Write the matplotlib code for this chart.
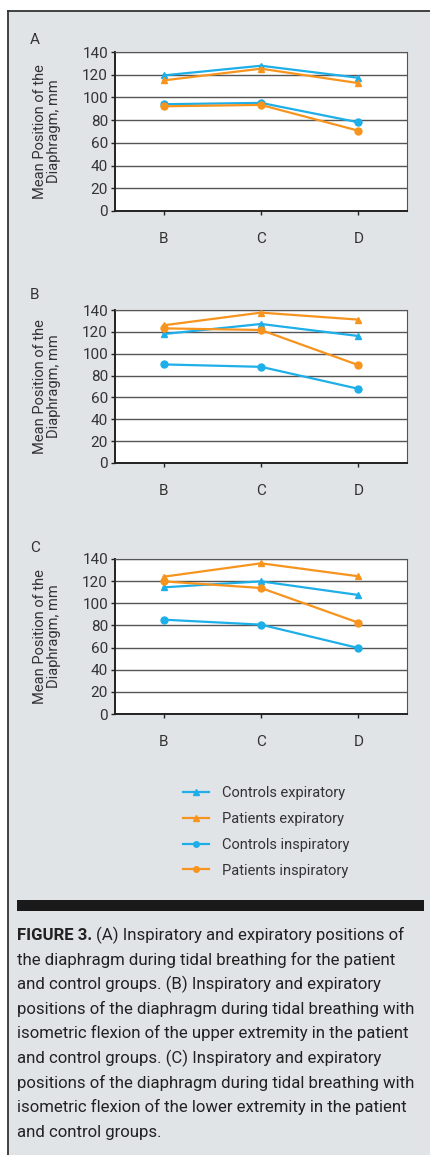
import matplotlib
matplotlib.use("Agg")
import matplotlib.pyplot as plt
from matplotlib.lines import Line2D

plt.rcParams['font.family'] = ['Roboto', 'DejaVu Sans']

categories = ['B', 'C', 'D']
yticks = [0, 20, 40, 60, 80, 100, 120, 140]
panel_letters = ['A', 'B', 'C']
series_names = ['Controls expiratory', 'Patients expiratory',
                'Controls inspiratory', 'Patients inspiratory']

# values per panel, in the order of series_names
panel_A = [[119.4, 127.9, 117.3],
           [115.0, 125.3, 112.6],
           [94.0, 95.2, 78.1],
           [92.2, 93.4, 70.7]]
panel_B = [[118.0, 127.2, 116.2],
           [126.0, 137.6, 131.2],
           [90.2, 88.0, 67.9],
           [123.2, 121.7, 89.6]]
panel_C = [[114.4, 119.8, 107.5],
           [124.0, 136.1, 124.4],
           [85.2, 80.7, 59.6],
           [119.8, 113.8, 82.5]]

caption_lines = [
    "(A) Inspiratory and expiratory positions of",
    "the diaphragm during tidal breathing for the patient",
    "and control groups. (B) Inspiratory and expiratory",
    "positions of the diaphragm during tidal breathing with",
    "isometric flexion of the upper extremity in the patient",
    "and control groups. (C) Inspiratory and expiratory",
    "positions of the diaphragm during tidal breathing with",
    "isometric flexion of the lower extremity in the patient",
    "and control groups.",
]

blue = '#1eaee8'
orange = '#f7941e'
colors = [blue, orange, blue, orange]
markers = ['^', '^', 'o', 'o']
bg = '#e1e4e7'
txt = '#333333'

W, H = 430, 1155
fig = plt.figure(figsize=(W / 100, H / 100), dpi=100)
fig.patch.set_facecolor('white')

# gray panel with frame lines on top and left
fig.patches.append(plt.Rectangle((8 / W, 0), 1, 1 - 11 / H, transform=fig.transFigure,
                                 facecolor=bg, edgecolor='none', zorder=-10))
fig.add_artist(Line2D([8 / W, 1], [1 - 11 / H, 1 - 11 / H], color='#333333', lw=1.3))
fig.add_artist(Line2D([8 / W, 8 / W], [0, 1 - 11 / H], color='#333333', lw=1.3))

# axes placement in pixels (top, bottom)
boxes = [(52, 211), (310, 463), (559, 714)]
letter_y = [40, 295, 548]
data = [panel_A, panel_B, panel_C]

for letter, (top, bot), ly, vals in zip(panel_letters, boxes, letter_y, data):
    ax = fig.add_axes([115 / W, 1 - bot / H, 292 / W, (bot - top) / H])
    ax.set_facecolor('white')
    x = range(len(categories))
    for name, v, c, m in zip(series_names, vals, colors, markers):
        ax.plot(x, v, color=c, marker=m, markersize=5, lw=1.6, label=name, zorder=3)
    ax.set_xlim(-0.5, 2.5)
    ax.set_ylim(0, 140)
    ax.set_yticks(yticks)
    ax.set_xticks(list(x))
    ax.set_xticklabels(categories)
    ax.grid(axis='y', color='#555555', lw=1.0)
    ax.set_axisbelow(True)
    for s in ['top', 'right']:
        ax.spines[s].set_color('#555555')
        ax.spines[s].set_linewidth(0.8)
    for s in ['left', 'bottom']:
        ax.spines[s].set_color('#222222')
        ax.spines[s].set_linewidth(1.4)
    ax.tick_params(axis='y', length=3, width=1, colors='#222222', labelsize=11,
                   labelcolor=txt, pad=2)
    ax.tick_params(axis='x', length=3, width=1, colors='#222222', labelsize=11,
                   labelcolor=txt, pad=12)
    ax.set_ylabel('Mean Position of the\nDiaphragm, mm', fontsize=10.5, color=txt,
                  linespacing=1.05, labelpad=15)
    fig.text(30 / W, 1 - ly / H, letter, fontsize=11, color=txt, va='center', ha='left')

# legend
handles = [Line2D([0], [0], color=c, marker=m, markersize=4, lw=1.6)
           for c, m in zip(colors, markers)]
fig.legend(handles, series_names, loc='center', bbox_to_anchor=(266 / W, 1 - 832 / H),
           frameon=False, fontsize=10.5, labelspacing=0.8, handlelength=1.8,
           handletextpad=0.9, labelcolor=txt)

# caption bar
fig.patches.append(plt.Rectangle((17 / W, 1 - 911 / H), 407 / W, 11 / H,
                                 transform=fig.transFigure, facecolor='#1a1a1a',
                                 edgecolor='none'))

# fit caption size so the widest line ends near x = 410 px
fig.canvas.draw()
r = fig.canvas.get_renderer()
probe = fig.text(0, 0, caption_lines[4], fontsize=13)
wpx = probe.get_window_extent(renderer=r).width
probe.remove()
fs = 13 * 392 / wpx

y0 = 940
step = 24.6
bold = fig.text(17 / W, 1 - y0 / H, 'FIGURE 3. ', fontsize=fs, fontweight='bold',
                color='#222222', va='baseline')
bb = bold.get_window_extent(renderer=r)
fig.text(bb.x1 / W, 1 - y0 / H, caption_lines[0], fontsize=fs, color='#222222',
         va='baseline')
for i, line in enumerate(caption_lines[1:], start=1):
    fig.text(17 / W, 1 - (y0 + i * step) / H, line, fontsize=fs, color='#222222',
             va='baseline')

fig.savefig('out.png', dpi=100, facecolor=fig.get_facecolor())
